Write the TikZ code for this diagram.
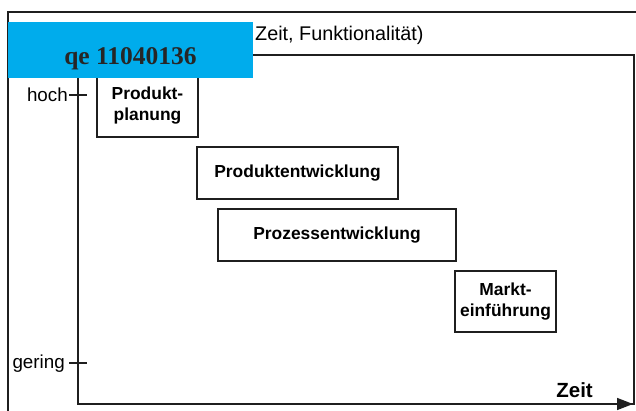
\documentclass[tikz,border=0pt]{standalone}
\usepackage{fontspec}
\setmainfont{Liberation Sans}
\newfontfamily\stampfont{Liberation Serif}
\usepackage{xcolor}
\usetikzlibrary{arrows.meta}
\definecolor{stampblue}{RGB}{0,172,236}
\colorlet{linegray}{black!88}
\tikzstyle{phase}=[draw=linegray,line width=1.3pt,inner sep=0pt,align=center,
  font=\fontsize{17.4}{21}\selectfont\bfseries]
\tikzstyle{axislabel}=[inner sep=0pt,font=\fontsize{18.8}{22}\selectfont]
\tikzstyle{frame}=[draw=linegray,line width=1.1pt]
\tikzstyle{axis}=[line width=1.5pt,draw=linegray,-{Triangle[length=16pt,width=12pt]}]
\begin{document}
\begin{tikzpicture}[x=1pt,y=-1pt]
	\useasboundingbox (0,0) rectangle (636,410);
	\clip (0,0) rectangle (636,410);
	\draw[frame] (8,12) rectangle (660,430);
	\draw[frame] (78,55) rectangle (634,404);
	\node[axislabel,anchor=base west,font=\fontsize{19.8}{23}\selectfont] (title) at (255,40) {Zeit, Funktionalit\"at)};
	% axes
	\coordinate (origin) at (78,404);
	\coordinate (top) at (78,55);
	\coordinate (tip) at (633,404);
	\draw[line width=1.3pt,draw=linegray] (origin) -- (top);
	\draw[axis] (origin) -- (tip);
	\coordinate (hi) at (78,95);
	\coordinate (lo) at (78,363);
	\draw[line width=1.1pt,draw=linegray] ([xshift=-9pt]hi) -- ([xshift=9pt]hi);
	\draw[line width=1.1pt,draw=linegray] ([xshift=-9pt]lo) -- ([xshift=9pt]lo);
	\node[axislabel,anchor=base east] (hoch) at (68,101) {hoch};
	\node[axislabel,anchor=base east] (gering) at (65,368) {gering};
	\node[axislabel,anchor=base east,font=\fontsize{20.5}{24}\selectfont\bfseries] (zeit) at (593,397) {Zeit};
	% phases
	\node[phase,minimum width=101pt,minimum height=63pt] (planung) at (147.5,105.5) {Produkt-\\planung};
	\node[phase,minimum width=201pt,minimum height=52pt] (pentw) at (297.5,173) {Produktentwicklung};
	\node[phase,minimum width=238pt,minimum height=52pt] (prozess) at (337,235) {Prozessentwicklung};
	\node[phase,minimum width=101pt,minimum height=61pt] (markt) at (505.5,301.5) {Markt-\\einf\"uhrung};
	% stamp
	\fill[stampblue] (8,22) rectangle (253,78);
	\node[anchor=base,inner sep=0pt,text=black!85,font=\fontsize{25.5}{28}\stampfont\bfseries] (stamp) at (130.5,64) {qe 11040136};
\end{tikzpicture}
\end{document}
